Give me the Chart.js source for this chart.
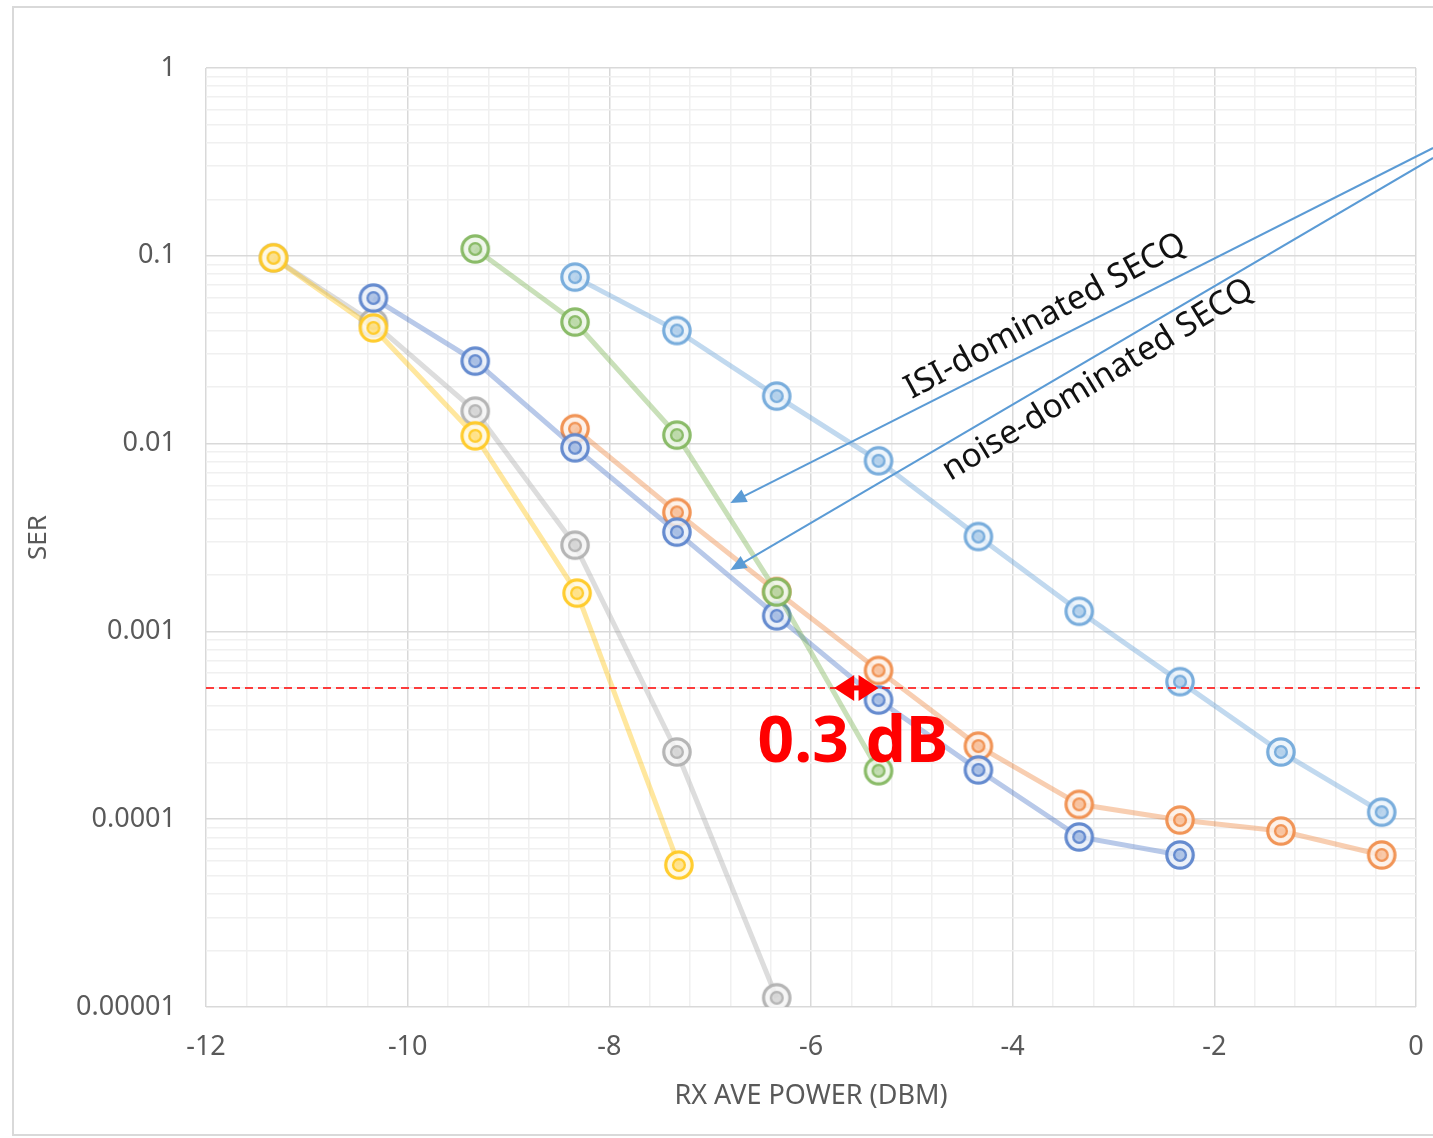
<!DOCTYPE html>
<html>
<head>
<meta charset="utf-8">
<script src="https://cdn.jsdelivr.net/npm/chart.js@4.4.1/dist/chart.umd.min.js"></script>
<style>
html,body{margin:0;padding:0;background:#fff;}
#wrap{width:1433px;height:1138px;position:relative;}
canvas{display:block;}
</style>
</head>
<body>
<div id="wrap"><canvas id="c" width="1433" height="1138"></canvas></div>
<script>
// ---------- DATA ----------
const xTickLabels = ['-12', '-10', '-8', '-6', '-4', '-2', '0'];
const yTickLabels = ['1', '0.1', '0.01', '0.001', '0.0001', '0.00001'];

const seriesNames = ['Series 1', 'Series 2', 'Series 3', 'Series 4', 'Series 5', 'Series 6'];

const series1X = [-8.34, -7.33, -6.34, -5.33, -4.34, -3.34, -2.34, -1.34, -0.34];
const series1Y = [0.077, 0.040, 0.0179, 0.0081, 0.0032, 0.00128, 0.00054, 0.000228, 0.000109];

const series2X = [-8.34, -7.33, -6.34, -5.33, -4.34, -3.34, -2.34, -1.34, -0.34];
const series2Y = [0.0120, 0.0043, 0.00163, 0.00062, 0.000245, 0.000120, 0.0000990, 0.0000865, 0.0000645];

const series3X = [-11.33, -10.34, -9.33, -8.34, -7.33, -6.34];
const series3Y = [0.0975, 0.0439, 0.0149, 0.00288, 0.000228, 0.0000112];

const series4X = [-11.33, -10.34, -9.33, -8.32, -7.31];
const series4Y = [0.0975, 0.0413, 0.0110, 0.00160, 0.000057];

const series5X = [-10.34, -9.33, -8.34, -7.33, -6.34, -5.33, -4.34, -3.34, -2.34];
const series5Y = [0.0596, 0.0275, 0.0095, 0.00338, 0.00121, 0.000431, 0.000183, 0.0000804, 0.0000645];

const series6X = [-9.33, -8.34, -7.33, -6.34, -5.33];
const series6Y = [0.1087, 0.0444, 0.0111, 0.00162, 0.000181];

// annotations (data coordinates)
const thresholdSER = 5e-4;
const gapArrowX = [-5.77, -5.33];
const gapLabel = '0.3 dB';
const gapLabelPos = [-6.53, 0.000202];
const callouts = [
  { text: 'ISI-dominated SECQ', from: [0.17, 0.375], to: [-6.80, 0.00483], textFrom: [-5.00, 0.0172], textTo: [-2.26, 0.1074] },
  { text: 'noise-dominated SECQ', from: [0.17, 0.332], to: [-6.80, 0.00212], textFrom: [-4.62, 0.0063], textTo: [-1.59, 0.0618] }
];

// ---------- STYLE ----------
const seriesRGB = ['91,155,213', '237,125,49', '165,165,165', '255,192,0', '68,114,196', '112,173,71'];
const FONT = '"Noto Sans", "DejaVu Sans", sans-serif';

function makeMarker(rgb) {
  const c = document.createElement('canvas');
  c.width = 34; c.height = 34;
  const g = c.getContext('2d');
  g.beginPath(); g.arc(17, 17, 14.5, 0, Math.PI * 2);
  g.fillStyle = 'rgba(255,255,255,0.8)'; g.fill();
  g.beginPath(); g.arc(17, 17, 14.5, 0, Math.PI * 2);
  g.fillStyle = 'rgba(' + rgb + ',0.10)'; g.fill();
  g.strokeStyle = 'rgba(' + rgb + ',0.8)';
  g.lineWidth = 3.2;
  g.beginPath(); g.arc(17, 17, 13.2, 0, Math.PI * 2); g.stroke();
  g.lineWidth = 2.5;
  g.beginPath(); g.arc(17, 17, 5.8, 0, Math.PI * 2); g.stroke();
  g.fillStyle = 'rgba(' + rgb + ',0.35)';
  g.beginPath(); g.arc(17, 17, 4.6, 0, Math.PI * 2); g.fill();
  return c;
}

// ---------- BUILD ----------
const allX = [series1X, series2X, series3X, series4X, series5X, series6X];
const allY = [series1Y, series2Y, series3Y, series4Y, series5Y, series6Y];

const datasets = allY.map((ys, i) => ({
  label: seriesNames[i],
  data: ys.map((v, k) => ({ x: allX[i][k], y: v })),
  borderColor: 'rgba(' + seriesRGB[i] + ',0.38)',
  borderWidth: 5,
  pointStyle: makeMarker(seriesRGB[i]),
  pointRadius: 15,
  tension: 0,
  fill: false,
  order: 6 - i
}));

const xMajors = xTickLabels.map(Number);
const xGridValues = [];
for (let i = 0; i < xMajors.length; i++) {
  xGridValues.push(xMajors[i]);
  if (i < xMajors.length - 1) {
    for (let k = 1; k < 5; k++) xGridValues.push(xMajors[i] + (xMajors[i + 1] - xMajors[i]) * k / 5);
  }
}
const yDecadesAsc = yTickLabels.map(Number).slice().reverse();
const yLabelsAsc = yTickLabels.slice().reverse();
const yGridValues = [];
for (let i = 0; i < yDecadesAsc.length; i++) {
  if (i < yDecadesAsc.length - 1) {
    for (let m = 1; m <= 9; m++) yGridValues.push(m * yDecadesAsc[i]);
  } else {
    yGridValues.push(yDecadesAsc[i]);
  }
}

function arrowHead(ctx, tipX, tipY, fromX, fromY, len, half) {
  const a = Math.atan2(tipY - fromY, tipX - fromX);
  ctx.beginPath();
  ctx.moveTo(tipX, tipY);
  ctx.lineTo(tipX - len * Math.cos(a) + half * Math.sin(a), tipY - len * Math.sin(a) - half * Math.cos(a));
  ctx.lineTo(tipX - len * Math.cos(a) - half * Math.sin(a), tipY - len * Math.sin(a) + half * Math.cos(a));
  ctx.closePath();
  ctx.fill();
}

const framePlugin = {
  id: 'frame',
  beforeDraw(chart) {
    const ctx = chart.ctx;
    ctx.save();
    ctx.fillStyle = '#fff';
    ctx.fillRect(0, 0, chart.width, chart.height);
    ctx.strokeStyle = '#D9D9D9';
    ctx.lineWidth = 2;
    ctx.strokeRect(13, 7, 1460, 1128);
    ctx.restore();
  }
};

const annotationPlugin = {
  id: 'annotations',
  afterDraw(chart) {
    const { ctx, chartArea } = chart;
    const x = chart.scales.x, y = chart.scales.y;
    const px = v => x.getPixelForValue(v), py = v => y.getPixelForValue(v);
    ctx.save();
    // threshold line
    const yT = py(thresholdSER);
    ctx.strokeStyle = '#FF0000';
    ctx.lineWidth = 1.5;
    ctx.setLineDash([8, 5]);
    ctx.beginPath();
    ctx.moveTo(chartArea.left, yT);
    ctx.lineTo(chartArea.right + 4, yT);
    ctx.stroke();
    ctx.setLineDash([]);
    // gap double arrow
    const xa = px(gapArrowX[0]), xb = px(gapArrowX[1]);
    ctx.fillStyle = '#FF0000';
    ctx.strokeStyle = '#FF0000';
    ctx.lineWidth = 5;
    ctx.beginPath(); ctx.moveTo(xa + 10, yT); ctx.lineTo(xb - 10, yT); ctx.stroke();
    arrowHead(ctx, xa, yT, xb, yT, 20, 13);
    arrowHead(ctx, xb, yT, xa, yT, 20, 13);
    // gap label
    ctx.font = 'bold 64px ' + FONT;
    ctx.textBaseline = 'alphabetic';
    ctx.textAlign = 'left';
    ctx.fillText(gapLabel, px(gapLabelPos[0]), py(gapLabelPos[1]));
    // callout arrows
    callouts.forEach(c => {
      const x1 = px(c.from[0]), y1 = py(c.from[1]);
      const x2 = px(c.to[0]), y2 = py(c.to[1]);
      ctx.strokeStyle = '#5B9BD5';
      ctx.fillStyle = '#5B9BD5';
      ctx.lineWidth = 2;
      const a = Math.atan2(y2 - y1, x2 - x1);
      ctx.beginPath();
      ctx.moveTo(x1, y1);
      ctx.lineTo(x2 - 12 * Math.cos(a), y2 - 12 * Math.sin(a));
      ctx.stroke();
      arrowHead(ctx, x2, y2, x1, y1, 16, 7);
      // text
      const tx1 = px(c.textFrom[0]), ty1 = py(c.textFrom[1]);
      const tx2 = px(c.textTo[0]), ty2 = py(c.textTo[1]);
      const len = Math.hypot(tx2 - tx1, ty2 - ty1);
      const ang = Math.atan2(ty2 - ty1, tx2 - tx1);
      ctx.font = '30px ' + FONT;
      const w = ctx.measureText(c.text).width;
      const fs = 30 * len / w;
      ctx.font = fs.toFixed(2) + 'px ' + FONT;
      ctx.fillStyle = '#111';
      ctx.save();
      ctx.translate(tx1, ty1);
      ctx.rotate(ang);
      ctx.fillText(c.text, 0, 0);
      ctx.restore();
    });
    ctx.restore();
  }
};

new Chart(document.getElementById('c'), {
  type: 'line',
  data: { datasets },
  options: {
    responsive: false,
    animation: false,
    events: [],
    layout: { autoPadding: false, padding: { left: 0, right: 17, top: 68, bottom: 0 } },
    plugins: { legend: { display: false }, tooltip: { enabled: false } },
    scales: {
      x: {
        type: 'linear',
        min: -12, max: 0,
        afterBuildTicks: s => { s.ticks = xGridValues.map(v => ({ value: v })); },
        afterFit: s => { s.height = 131; s.paddingLeft = 0; s.paddingRight = 0; },
        ticks: {
          autoSkip: false, maxRotation: 0, padding: 24,
          color: '#595959',
          font: { family: FONT, size: 27 },
          callback: (v, i) => (i % 5 === 0 ? xTickLabels[i / 5] : '')
        },
        grid: {
          drawTicks: false,
          lineWidth: 1.5,
          color: c => (c.index % 5 === 0 ? '#D9D9D9' : '#F0F0F0')
        },
        border: { display: false },
        title: {
          display: true, text: 'RX AVE POWER (DBM)', color: '#595959',
          font: { family: FONT, size: 27 }, padding: { top: 0, bottom: 25 }
        }
      },
      y: {
        type: 'logarithmic',
        min: 1e-5, max: 1,
        afterBuildTicks: s => { s.ticks = yGridValues.map(v => ({ value: v })); },
        afterFit: s => { s.width = 206; s.paddingTop = 0; s.paddingBottom = 0; },
        ticks: {
          autoSkip: false, padding: 30,
          color: '#595959',
          font: { family: FONT, size: 27 },
          callback: (v, i) => (i % 9 === 0 ? yLabelsAsc[i / 9] : '')
        },
        grid: {
          drawTicks: false,
          lineWidth: 1.5,
          color: c => (c.index % 9 === 0 ? '#D9D9D9' : '#F0F0F0')
        },
        border: { display: false },
        title: {
          display: true, text: 'SER', color: '#595959',
          font: { family: FONT, size: 26 }, padding: { top: 23, bottom: 0 }
        }
      }
    }
  },
  plugins: [framePlugin, annotationPlugin]
});
</script>
</body>
</html>
